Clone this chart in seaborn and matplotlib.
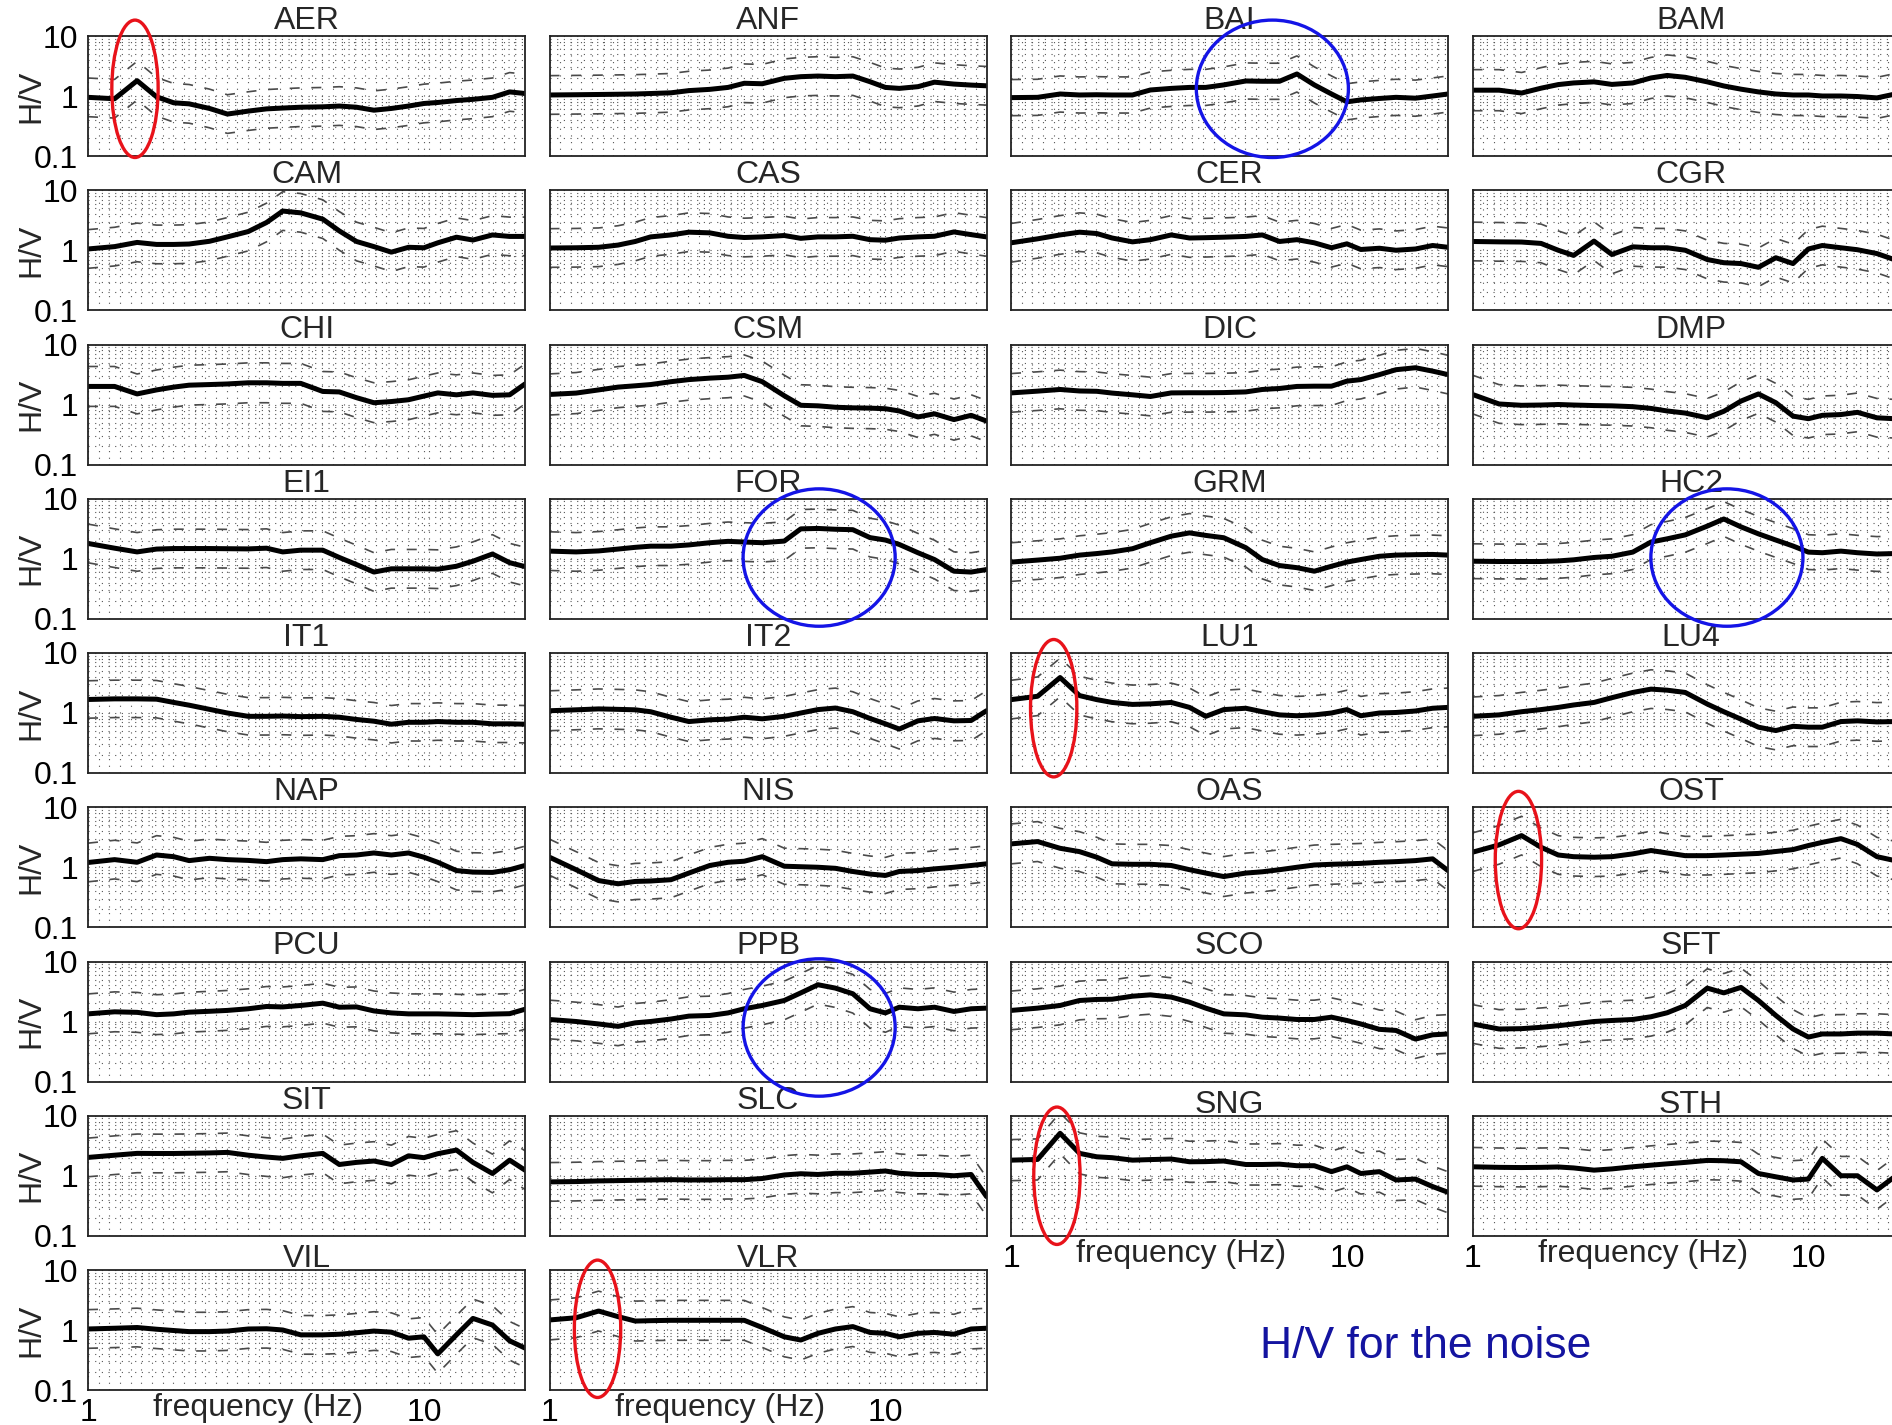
import numpy as np
import pandas as pd
import matplotlib
matplotlib.use("Agg")
import matplotlib.pyplot as plt
import seaborn as sns
from matplotlib.patches import Ellipse
from matplotlib.ticker import FixedLocator, LogLocator, NullFormatter

# frequency knots (Hz) shared by every station
freq = [1.0, 1.2, 1.4, 1.6, 1.8, 2.0, 2.3, 2.6, 3.0, 3.4, 3.8, 4.3, 5.0,
        5.6, 6.3, 7.1, 8.0, 9.0, 10, 11, 12.5, 14, 16, 18, 20]

# mean H/V ratio
AER = [0.95, 0.9, 1.8, 0.97, 0.77, 0.74, 0.62, 0.5, 0.56, 0.61, 0.63, 0.65, 0.66, 0.68, 0.65, 0.58, 0.62, 0.68, 0.75, 0.78, 0.84, 0.88, 0.95, 1.17, 1.1]
ANF = [1.04, 1.05, 1.06, 1.07, 1.08, 1.1, 1.13, 1.23, 1.29, 1.39, 1.63, 1.6, 1.97, 2.1, 2.15, 2.1, 2.15, 1.73, 1.39, 1.34, 1.43, 1.7, 1.58, 1.52, 1.48]
BAI = [0.94, 0.95, 1.08, 1.04, 1.05, 1.04, 1.04, 1.26, 1.34, 1.39, 1.39, 1.53, 1.78, 1.76, 1.76, 2.33, 1.53, 1.08, 0.8, 0.86, 0.91, 0.95, 0.92, 1.0, 1.08]
BAM = [1.25, 1.25, 1.12, 1.35, 1.55, 1.65, 1.72, 1.56, 1.65, 2.0, 2.2, 2.05, 1.72, 1.47, 1.3, 1.17, 1.08, 1.04, 1.04, 1.0, 1.0, 0.98, 0.93, 1.07, 1.1]
CAM = [1.05, 1.15, 1.35, 1.25, 1.25, 1.27, 1.41, 1.67, 2.05, 2.9, 4.5, 4.2, 3.3, 2.1, 1.4, 1.15, 0.93, 1.12, 1.1, 1.33, 1.65, 1.48, 1.8, 1.7, 1.7]
CAS = [1.09, 1.1, 1.12, 1.22, 1.4, 1.67, 1.8, 2.0, 1.95, 1.71, 1.63, 1.67, 1.76, 1.58, 1.67, 1.67, 1.71, 1.5, 1.47, 1.6, 1.67, 1.71, 2.02, 1.82, 1.67]
CER = [1.33, 1.55, 1.8, 2.0, 1.9, 1.6, 1.38, 1.5, 1.8, 1.6, 1.62, 1.65, 1.7, 1.8, 1.4, 1.5, 1.33, 1.1, 1.28, 1.03, 1.08, 1.0, 1.05, 1.2, 1.12]
CGR = [1.4, 1.38, 1.37, 1.3, 1.0, 0.82, 1.42, 0.85, 1.14, 1.1, 1.1, 1.0, 0.7, 0.62, 0.6, 0.52, 0.75, 0.6, 1.05, 1.2, 1.1, 1.02, 0.88, 0.7, 0.66]
CHI = [2.0, 2.0, 1.5, 1.75, 1.95, 2.1, 2.15, 2.2, 2.3, 2.3, 2.25, 2.25, 1.65, 1.62, 1.3, 1.07, 1.12, 1.2, 1.38, 1.56, 1.45, 1.56, 1.42, 1.45, 2.2]
CSM = [1.47, 1.55, 1.75, 1.95, 2.05, 2.15, 2.4, 2.6, 2.75, 2.85, 3.05, 2.4, 1.4, 0.97, 0.95, 0.9, 0.88, 0.87, 0.85, 0.78, 0.62, 0.7, 0.56, 0.66, 0.53]
DIC = [1.56, 1.67, 1.78, 1.68, 1.66, 1.55, 1.45, 1.36, 1.56, 1.57, 1.57, 1.58, 1.62, 1.78, 1.85, 2.0, 2.02, 2.02, 2.45, 2.6, 3.15, 3.8, 4.1, 3.6, 3.15]
DMP = [1.47, 1.02, 0.97, 0.98, 1.0, 0.98, 0.96, 0.95, 0.92, 0.86, 0.78, 0.72, 0.6, 0.77, 1.14, 1.5, 1.07, 0.64, 0.58, 0.66, 0.68, 0.74, 0.6, 0.58, 0.6]
EI1 = [1.8, 1.5, 1.3, 1.45, 1.48, 1.48, 1.48, 1.47, 1.46, 1.5, 1.3, 1.39, 1.39, 1.05, 0.8, 0.6, 0.68, 0.68, 0.68, 0.67, 0.75, 0.91, 1.2, 0.86, 0.74]
FOR = [1.34, 1.3, 1.35, 1.45, 1.55, 1.62, 1.62, 1.7, 1.85, 1.95, 1.9, 1.85, 1.97, 3.15, 3.2, 3.1, 3.05, 2.25, 2.05, 1.73, 1.26, 0.97, 0.62, 0.6, 0.66]
GRM = [0.88, 0.95, 1.02, 1.15, 1.22, 1.3, 1.47, 1.85, 2.38, 2.7, 2.45, 2.24, 1.53, 0.97, 0.77, 0.71, 0.62, 0.75, 0.88, 0.97, 1.1, 1.15, 1.17, 1.18, 1.15]
HC2 = [0.91, 0.9, 0.9, 0.9, 0.92, 0.96, 1.05, 1.1, 1.29, 1.9, 2.15, 2.5, 3.5, 4.6, 3.4, 2.6, 2.05, 1.63, 1.29, 1.26, 1.34, 1.26, 1.2, 1.22, 1.2]
IT1 = [1.68, 1.72, 1.72, 1.7, 1.5, 1.35, 1.15, 1.0, 0.88, 0.88, 0.89, 0.87, 0.88, 0.85, 0.78, 0.73, 0.65, 0.7, 0.7, 0.72, 0.7, 0.7, 0.66, 0.66, 0.65]
IT2 = [1.09, 1.13, 1.17, 1.15, 1.13, 1.05, 0.85, 0.72, 0.77, 0.79, 0.85, 0.8, 0.88, 1.0, 1.14, 1.21, 1.05, 0.81, 0.66, 0.54, 0.74, 0.81, 0.74, 0.75, 1.09]
LU1 = [1.67, 1.9, 3.9, 1.95, 1.67, 1.5, 1.39, 1.42, 1.5, 1.24, 0.88, 1.14, 1.2, 1.05, 0.93, 0.9, 0.93, 1.0, 1.14, 0.9, 1.0, 1.02, 1.08, 1.2, 1.24]
LU4 = [0.88, 0.93, 1.05, 1.14, 1.24, 1.36, 1.5, 1.8, 2.2, 2.5, 2.4, 2.2, 1.41, 1.05, 0.79, 0.58, 0.51, 0.6, 0.58, 0.58, 0.72, 0.74, 0.71, 0.72, 0.72]
NAP = [1.2, 1.34, 1.21, 1.6, 1.5, 1.29, 1.41, 1.34, 1.3, 1.24, 1.34, 1.38, 1.34, 1.56, 1.6, 1.73, 1.6, 1.73, 1.47, 1.21, 0.88, 0.83, 0.82, 0.91, 1.07]
NIS = [1.47, 0.91, 0.6, 0.53, 0.58, 0.59, 0.62, 0.8, 1.07, 1.21, 1.26, 1.5, 1.04, 1.02, 1.0, 0.96, 0.85, 0.77, 0.73, 0.85, 0.88, 0.94, 1.0, 1.07, 1.14]
OAS = [2.45, 2.68, 2.07, 1.82, 1.47, 1.14, 1.12, 1.12, 1.07, 0.91, 0.8, 0.7, 0.8, 0.84, 0.91, 1.0, 1.09, 1.12, 1.14, 1.16, 1.21, 1.24, 1.29, 1.38, 0.88]
OST = [1.78, 2.36, 3.37, 2.15, 1.6, 1.5, 1.47, 1.5, 1.67, 1.9, 1.73, 1.56, 1.56, 1.6, 1.65, 1.7, 1.83, 1.97, 2.3, 2.6, 3.0, 2.4, 1.5, 1.3, 1.3]
PCU = [1.34, 1.45, 1.42, 1.3, 1.34, 1.43, 1.48, 1.53, 1.63, 1.78, 1.75, 1.85, 2.02, 1.73, 1.75, 1.5, 1.39, 1.34, 1.34, 1.34, 1.32, 1.3, 1.33, 1.35, 1.6]
PPB = [1.08, 1.0, 0.91, 0.83, 0.95, 1.0, 1.1, 1.23, 1.26, 1.39, 1.63, 1.85, 2.24, 3.0, 4.1, 3.6, 2.9, 1.63, 1.39, 1.73, 1.63, 1.73, 1.47, 1.63, 1.67]
SCO = [1.53, 1.67, 1.85, 2.24, 2.33, 2.35, 2.64, 2.78, 2.55, 2.1, 1.67, 1.34, 1.29, 1.18, 1.14, 1.08, 1.08, 1.18, 1.04, 0.91, 0.74, 0.71, 0.51, 0.6, 0.62]
SFT = [0.91, 0.75, 0.76, 0.8, 0.85, 0.91, 1.0, 1.04, 1.08, 1.2, 1.4, 1.85, 3.6, 3.0, 3.7, 2.24, 1.26, 0.75, 0.55, 0.62, 0.62, 0.64, 0.64, 0.62, 0.62]
SIT = [2.02, 2.2, 2.36, 2.35, 2.35, 2.37, 2.4, 2.45, 2.2, 2.05, 1.95, 2.15, 2.36, 1.54, 1.67, 1.76, 1.54, 2.15, 2.0, 2.33, 2.68, 1.67, 1.09, 1.82, 1.24]
SLC = [0.79, 0.8, 0.82, 0.83, 0.84, 0.85, 0.86, 0.85, 0.85, 0.86, 0.86, 0.9, 1.03, 1.08, 1.05, 1.1, 1.1, 1.15, 1.2, 1.1, 1.05, 1.05, 1.0, 1.05, 0.45]
SNG = [1.82, 1.87, 5.1, 2.36, 2.07, 2.0, 1.82, 1.86, 1.9, 1.71, 1.72, 1.76, 1.54, 1.54, 1.56, 1.47, 1.47, 1.17, 1.41, 1.09, 1.17, 0.85, 0.88, 0.66, 0.53]
STH = [1.41, 1.38, 1.37, 1.38, 1.4, 1.35, 1.24, 1.3, 1.41, 1.5, 1.58, 1.67, 1.8, 1.78, 1.71, 1.09, 0.96, 0.85, 0.88, 1.95, 1.0, 1.0, 0.58, 0.95, 1.3]
VIL = [1.04, 1.07, 1.1, 1.03, 0.98, 0.94, 0.94, 0.96, 1.04, 1.05, 1.0, 0.83, 0.83, 0.85, 0.9, 0.96, 0.92, 0.73, 0.77, 0.4, 0.83, 1.56, 1.21, 0.66, 0.5]
VLR = [1.47, 1.6, 2.07, 1.67, 1.41, 1.43, 1.45, 1.45, 1.45, 1.45, 1.45, 1.1, 0.77, 0.68, 0.88, 1.04, 1.14, 0.91, 0.88, 0.77, 0.88, 0.91, 0.85, 1.04, 1.07]

stations = ["AER", "ANF", "BAI", "BAM", "CAM", "CAS", "CER", "CGR", "CHI", "CSM",
            "DIC", "DMP", "EI1", "FOR", "GRM", "HC2", "IT1", "IT2", "LU1", "LU4",
            "NAP", "NIS", "OAS", "OST", "PCU", "PPB", "SCO", "SFT", "SIT", "SLC",
            "SNG", "STH", "VIL", "VLR"]
curves = [AER, ANF, BAI, BAM, CAM, CAS, CER, CGR, CHI, CSM, DIC, DMP, EI1, FOR,
          GRM, HC2, IT1, IT2, LU1, LU4, NAP, NIS, OAS, OST, PCU, PPB, SCO, SFT,
          SIT, SLC, SNG, STH, VIL, VLR]
# multiplicative std factor of the dashed +/- curves
sigma = [2.1, 2.1, 2.0, 2.2, 2.1, 2.1, 2.1, 2.1, 2.15, 2.2, 2.1, 2.1, 2.1, 2.1,
         2.1, 1.95, 2.05, 2.15, 2.1, 2.1, 2.1, 2.0, 2.15, 2.1, 2.15, 2.1, 2.1, 2.1,
         2.1, 2.1, 2.2, 2.1, 2.1, 2.15]

# highlighted peaks: station, centre frequency, kind
marks = [("AER", 1.38, "red"), ("LU1", 1.34, "red"), ("OST", 1.37, "red"),
         ("SNG", 1.37, "red"), ("VLR", 1.39, "red"), ("BAI", 6.0, "blue"),
         ("FOR", 6.35, "blue"), ("HC2", 5.72, "blue"), ("PPB", 6.35, "blue")]
mark_y = {"AER": 0.56, "LU1": 0.54, "OST": 0.56, "SNG": 0.5, "VLR": 0.51,
          "BAI": 0.56, "FOR": 0.51, "HC2": 0.51, "PPB": 0.45}

bottom_panels = ["SNG", "STH", "VIL", "VLR"]

sns.set_theme(style="white")
plt.rcParams["font.family"] = ["Liberation Sans", "DejaVu Sans"]
plt.rcParams["axes.linewidth"] = 1.3
plt.rcParams["axes.edgecolor"] = "#222222"

FS = 23
W, H = 1892, 1425
fig = plt.figure(figsize=(W / 100, H / 100), dpi=100)
fig.patch.set_facecolor("white")

axes = {}
for i, name in enumerate(stations):
    r, c = divmod(i, 4)
    left = (88 + 461.5 * c) / W
    bottom = 1 - (36 + 154.25 * r + 120) / H
    ax = fig.add_axes([left, bottom, 437 / W, 120 / H])
    axes[name] = ax

    df = pd.DataFrame({"f": freq, "hv": curves[i]})
    df["up"] = df["hv"] * sigma[i]
    df["lo"] = df["hv"] / sigma[i]

    sns.lineplot(data=df, x="f", y="up", ax=ax, color="#4a4a4a", lw=1.2,
                 linestyle=(0, (6, 7)))
    sns.lineplot(data=df, x="f", y="lo", ax=ax, color="#4a4a4a", lw=1.2,
                 linestyle=(0, (6, 7)))
    sns.lineplot(data=df, x="f", y="hv", ax=ax, color="black", lw=3.6)

    ax.set_xscale("log")
    ax.set_yscale("log")
    ax.set_xlim(1, 20)
    ax.set_ylim(0.1, 10)
    ax.xaxis.set_major_locator(FixedLocator([1, 10]))
    ax.xaxis.set_minor_locator(FixedLocator(np.geomspace(1, 20, 42)[1:-1]))
    ax.yaxis.set_major_locator(FixedLocator([0.1, 1, 10]))
    ax.yaxis.set_minor_locator(LogLocator(subs=np.arange(2, 10)))
    ax.xaxis.set_minor_formatter(NullFormatter())
    ax.yaxis.set_minor_formatter(NullFormatter())
    ax.grid(True, which="both", ls=(0, (1, 5)), lw=0.8, color="#555555")
    ax.tick_params(which="both", direction="in", colors="#222222")
    ax.tick_params(axis="x", which="minor", length=0)
    ax.tick_params(axis="y", which="minor", length=3)
    ax.tick_params(which="major", length=5, labelsize=FS, labelcolor="black")
    ax.tick_params(axis="y", pad=7)
    ax.tick_params(axis="x", pad=6)
    ax.set_title(name, fontsize=FS, pad=2)
    ax.set_xlabel("")
    ax.set_ylabel("")

    if c == 0:
        ax.set_yticklabels(["0.1", "1", "10"])
        ax.set_ylabel("H/V", fontsize=FS)
        ax.yaxis.set_label_coords(-0.095, 0.5)
    else:
        ax.tick_params(axis="y", labelleft=False)

    if name in bottom_panels:
        ax.set_xticklabels(["1", "10"])
        ax.set_xlabel("frequency (Hz)", fontsize=FS)
        ax.xaxis.set_label_coords(0.39, -0.15)
        ax.xaxis.label.set_va("center")
    else:
        ax.tick_params(axis="x", labelbottom=False)

    for s in ax.spines.values():
        s.set_visible(True)

# red / blue rings around the peaks
for name, f0, kind in marks:
    ax = axes[name]
    xc = np.log10(f0) / np.log10(20)
    if kind == "red":
        e = Ellipse((xc, mark_y[name]), 0.106, 1.145, transform=ax.transAxes,
                    fill=False, ec="#e8121a", lw=2.4, zorder=5)
    else:
        e = Ellipse((xc, mark_y[name]), 0.348, 1.145, transform=ax.transAxes,
                    fill=False, ec="#1414e6", lw=2.4, zorder=5)
    fig.add_artist(e)

fig.text(1426 / W, 1 - 1346 / H, "H/V for the noise", ha="center", va="center",
         fontsize=32, color="#1414a0")

fig.savefig("out.png", dpi=100, facecolor="white")
